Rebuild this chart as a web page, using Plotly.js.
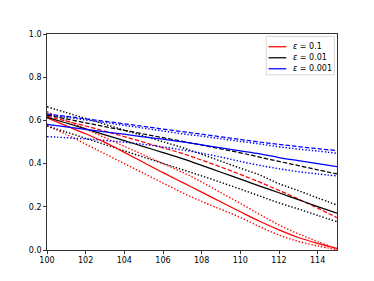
<!DOCTYPE html>
<html>
<head>
<meta charset="utf-8">
<script src="https://cdn.plot.ly/plotly-3.0.1.min.js"></script>
<style>html,body{margin:0;padding:0;background:#fff;}#chart{width:374px;height:281px;}</style>
</head>
<body>
<div id="chart"></div>
<script>
const xVals = [100,101,102,103,104,105,106,107,108,109,110,111,112,113,114,115];

// eps = 0.1 (red)
const redSolid  = [0.612,0.575,0.538,0.498,0.452,0.405,0.358,0.313,0.268,0.222,0.177,0.133,0.093,0.058,0.031,0.008];
const redDashed = [0.620,0.597,0.574,0.550,0.525,0.499,0.473,0.447,0.416,0.384,0.350,0.314,0.276,0.236,0.194,0.150];
const redUpper  = [0.640,0.600,0.560,0.520,0.480,0.440,0.400,0.360,0.315,0.265,0.216,0.165,0.116,0.075,0.039,0.005];
const redLower  = [0.575,0.535,0.490,0.445,0.400,0.355,0.310,0.265,0.225,0.188,0.151,0.108,0.069,0.040,0.019,0.002];

// eps = 0.01 (black)
const blackSolid  = [0.614,0.588,0.561,0.533,0.506,0.479,0.451,0.423,0.392,0.360,0.328,0.296,0.265,0.233,0.201,0.170];
const blackDashed = [0.625,0.607,0.589,0.571,0.554,0.537,0.520,0.503,0.486,0.468,0.450,0.430,0.410,0.391,0.371,0.352];
const blackUpper  = [0.663,0.636,0.609,0.582,0.555,0.528,0.501,0.474,0.443,0.411,0.379,0.347,0.307,0.275,0.241,0.208];
const blackLower  = [0.575,0.546,0.517,0.488,0.459,0.430,0.401,0.372,0.343,0.313,0.282,0.250,0.218,0.190,0.160,0.131];

// eps = 0.001 (blue)
const blueSolid  = [0.582,0.570,0.559,0.547,0.536,0.524,0.513,0.501,0.487,0.473,0.459,0.445,0.428,0.414,0.400,0.386];
const blueDashed = [0.630,0.619,0.607,0.596,0.584,0.572,0.560,0.548,0.536,0.524,0.512,0.500,0.489,0.479,0.469,0.460];
const blueUpper  = [0.628,0.615,0.602,0.590,0.577,0.564,0.551,0.538,0.527,0.515,0.503,0.491,0.478,0.467,0.458,0.448];
const blueLower  = [0.525,0.520,0.514,0.507,0.499,0.489,0.477,0.463,0.448,0.430,0.410,0.392,0.376,0.363,0.352,0.343];

const legendNames = ['<i>ε</i> = 0.1', '<i>ε</i> = 0.01', '<i>ε</i> = 0.001'];
const colors = ['#ff0000', '#000000', '#0000ff'];

const groups = [
  [redSolid, redDashed, redUpper, redLower],
  [blackSolid, blackDashed, blackUpper, blackLower],
  [blueSolid, blueDashed, blueUpper, blueLower]
];

const traces = [];
groups.forEach((g, i) => {
  traces.push({x: xVals, y: g[2], mode: 'lines', line: {color: colors[i], width: 1.4, dash: '1.4px,1.9px', shape: 'spline'}, showlegend: false, hoverinfo: 'skip'});
  traces.push({x: xVals, y: g[3], mode: 'lines', line: {color: colors[i], width: 1.4, dash: '1.4px,1.9px', shape: 'spline'}, showlegend: false, hoverinfo: 'skip'});
  traces.push({x: xVals, y: g[1], mode: 'lines', line: {color: colors[i], width: 1.25, dash: '4.5px,2px', shape: 'spline'}, showlegend: false, hoverinfo: 'skip'});
});
groups.forEach((g, i) => {
  traces.push({x: xVals, y: g[0], mode: 'lines', line: {color: colors[i], width: 1.25, shape: 'spline'}, showlegend: false, hoverinfo: 'skip'});
});

// manual legend (matplotlib style)
const shapes = [{type: 'rect', xref: 'paper', yref: 'paper', x0: 0.756, x1: 0.991, y0: 0.811, y1: 0.989, line: {color: '#cccccc', width: 0.8}, fillcolor: 'rgba(255,255,255,0.8)', layer: 'above'}];
const annotations = [];
const rowY = [0.941, 0.890, 0.839];
legendNames.forEach((name, i) => {
  shapes.push({type: 'line', xref: 'paper', yref: 'paper', x0: 0.764, x1: 0.825, y0: rowY[i], y1: rowY[i], line: {color: colors[i], width: 1.25}, layer: 'above'});
  annotations.push({xref: 'paper', yref: 'paper', x: 0.8415, y: rowY[i], xanchor: 'left', yanchor: 'middle', text: name, showarrow: false, font: {family: 'DejaVu Sans', size: 8, color: '#000'}});
});

const layout = {
  width: 374, height: 281,
  margin: {l: 46.75, r: 37.4, t: 33.7, b: 30.9, pad: 0},
  paper_bgcolor: '#ffffff', plot_bgcolor: '#ffffff',
  font: {family: 'DejaVu Sans', size: 8, color: '#000'},
  showlegend: false,
  shapes: shapes,
  annotations: annotations,
  xaxis: {range: [100, 115], tickmode: 'array', tickvals: [100,102,104,106,108,110,112,114], ticktext: ['100','102','104','106','108','110','112','114'], ticks: 'outside', ticklen: 3, tickwidth: 0.8, tickcolor: '#000', showgrid: false, zeroline: false, showline: true, linecolor: '#000', linewidth: 0.8, mirror: true, tickfont: {size: 8}},
  yaxis: {range: [0, 1], tickmode: 'array', tickvals: [0,0.2,0.4,0.6,0.8,1.0], ticktext: ['0.0','0.2','0.4','0.6','0.8','1.0'], ticks: 'outside', ticklen: 3, tickwidth: 0.8, tickcolor: '#000', showgrid: false, zeroline: false, showline: true, linecolor: '#000', linewidth: 0.8, mirror: true, tickfont: {size: 8}}
};

Plotly.newPlot('chart', traces, layout, {displayModeBar: false, staticPlot: true});
</script>
</body>
</html>
